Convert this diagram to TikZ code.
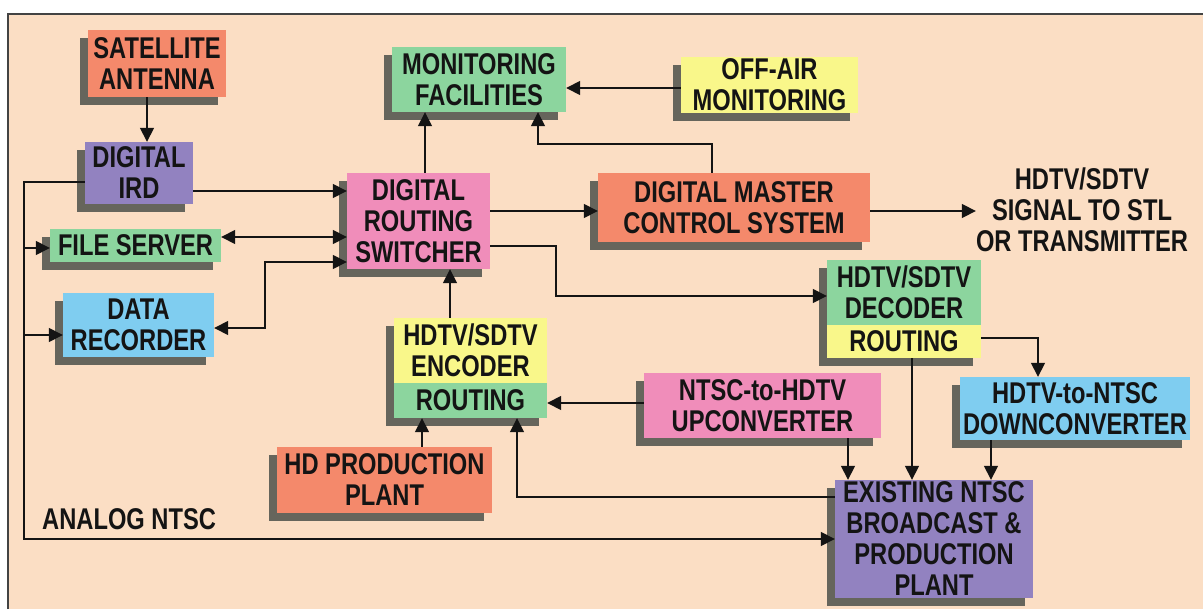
\documentclass[tikz,border=0pt]{standalone}
\usepackage{fontspec}
\setmainfont{Liberation Sans}[FakeStretch=0.79]
\usetikzlibrary{arrows.meta,shadows,calc}
\definecolor{bgpeach}{HTML}{FBDEC4}
\definecolor{salmon}{HTML}{F4896B}
\definecolor{purp}{HTML}{9282C0}
\definecolor{grn}{HTML}{8CD59E}
\definecolor{yel}{HTML}{F9F78A}
\definecolor{pnk}{HTML}{F08DBA}
\definecolor{blu}{HTML}{7FCDF0}
\definecolor{shad}{HTML}{66655C}
\definecolor{ink}{HTML}{141414}
\begin{document}
\begin{tikzpicture}[x=1pt,y=-1pt,
  box/.style={rectangle,inner sep=0pt,align=center,text=ink,
    font=\fontsize{30}{31}\selectfont\bfseries,
    drop shadow={shadow xshift=-8pt,shadow yshift=-8pt,opacity=1,fill=shad}},
  lbl/.style={inner sep=0pt,align=center,text=ink,font=\fontsize{30}{31}\selectfont\bfseries},
  arr/.style={draw=ink,line width=1.6pt,-{Triangle[length=14pt,width=14pt]}},
  barr/.style={draw=ink,line width=1.6pt,{Triangle[length=14pt,width=14pt]}-{Triangle[length=14pt,width=14pt]}},
  ln/.style={draw=ink,line width=1.6pt}]
\useasboundingbox (0,0) rectangle (1203,615);
\fill[white] (0,0) rectangle (1203,615);
\fill[bgpeach] (8,14) rectangle (1203,609);
\draw[ink!80,line width=1.2pt] (8,609) -- (8,14) -- (1203,14);

% nodes
\node[box,fill=salmon,minimum width=138,minimum height=67] (sat) at (157,63.5) {SATELLITE\\ANTENNA};
\node[box,fill=purp,minimum width=108,minimum height=62] (ird) at (139,173) {DIGITAL\\IRD};
\node[box,fill=grn,minimum width=171,minimum height=33] (fs) at (135.5,245.5) {FILE SERVER};
\node[box,fill=blu,minimum width=151,minimum height=64] (dr) at (138.5,325) {DATA\\RECORDER};
\node[box,fill=pnk,minimum width=143,minimum height=96] (drs) at (418.5,221) {DIGITAL\\ROUTING\\SWITCHER};
\node[box,fill=grn,minimum width=174,minimum height=65] (mon) at (479,79.5) {MONITORING\\FACILITIES};
\node[box,fill=yel,minimum width=177,minimum height=56] (off) at (769.5,85) {OFF-AIR\\MONITORING};
\node[box,fill=salmon,minimum width=272,minimum height=69] (dmc) at (734,207.5) {DIGITAL MASTER\\CONTROL SYSTEM};
\node[lbl] (sig) at (1082,210) {HDTV/SDTV\\SIGNAL TO STL\\OR TRANSMITTER};
\node[box,fill=yel,minimum width=153,minimum height=65] (enc) at (470.5,350.5) {HDTV/SDTV\\ENCODER};
\node[box,fill=grn,minimum width=153,minimum height=35] (encr) at (470.5,400.5) {ROUTING};
\node[box,fill=salmon,minimum width=215,minimum height=66] (hd) at (384.5,480) {HD PRODUCTION\\PLANT};
\node[box,fill=grn,minimum width=154,minimum height=65] (dec) at (904,292.5) {HDTV/SDTV\\DECODER};
\node[box,fill=yel,minimum width=154,minimum height=33] (decr) at (904,341.5) {ROUTING};
\node[box,fill=pnk,minimum width=237,minimum height=65] (up) at (762.5,405.5) {NTSC-to-HDTV\\UPCONVERTER};
\node[box,fill=blu,minimum width=230,minimum height=63] (down) at (1075,408.5) {HDTV-to-NTSC\\DOWNCONVERTER};
\node[box,fill=purp,minimum width=198,minimum height=118] (ex) at (934,539) {EXISTING NTSC\\BROADCAST \&\\PRODUCTION\\PLANT};
\node[lbl,anchor=west] (analog) at (42,519) {ANALOG NTSC};

% bend points
\coordinate (a1) at (24,182);
\coordinate (a2) at (24,539);
\coordinate (r1) at (265,328);
\coordinate (r2) at (265,262);
\coordinate (m1) at (712,144);
\coordinate (m2) at (538,144);
\coordinate (d1) at (556,246);
\coordinate (d2) at (556,296);
\coordinate (e1) at (517,497);
\coordinate (k1) at (1038,338);

% connectors
\draw[arr] ([xshift=-10pt]sat.south) -- ([xshift=-10pt]sat.south |- ird.north);
\draw[arr] (ird.east |- 0,191) -- (drs.west |- 0,191);
\draw[barr] (fs.east |- 0,237) -- (drs.west |- 0,237);
\draw[barr] (dr.east |- r1) -- (r1) -- (r2) -- (drs.west |- r2);
\draw[arr] (ird.west |- a1) -- (a1) -- (a2) -- (ex.west |- a2);
\draw[arr] (a1 |- 0,248) -- (fs.west |- 0,248);
\draw[arr] (a1 |- 0,335) -- (dr.west |- 0,335);
\draw[arr] (drs.north -| 425,0) -- (mon.south -| 425,0);
\draw[arr] (dmc.north -| m1) -- (m1) -- (m2) -- (mon.south -| m2);
\draw[arr] (off.west |- 0,88) -- (mon.east |- 0,88);
\draw[arr] (drs.east |- 0,211) -- (dmc.west |- 0,211);
\draw[arr] (dmc.east |- 0,211) -- (sig.west |- 0,211);
\draw[arr] (drs.east |- d1) -- (d1) -- (d2) -- (dec.west |- d2);
\draw[arr] (enc.north -| 450,0) -- (drs.south -| 450,0);
\draw[arr] (hd.north -| 422,0) -- (encr.south -| 422,0);
\draw[arr] (ex.west |- e1) -- (e1) -- (encr.south -| e1);
\draw[arr] (up.west |- 0,403) -- (encr.east |- 0,403);
\draw[arr] (decr.east |- k1) -- (k1) -- (down.north -| k1);
\draw[arr] (decr.south -| 912,0) -- (ex.north -| 912,0);
\draw[arr] (up.south -| 848,0) -- (ex.north -| 848,0);
\draw[arr] (down.south -| 991,0) -- (ex.north -| 991,0);
\end{tikzpicture}
\end{document}
